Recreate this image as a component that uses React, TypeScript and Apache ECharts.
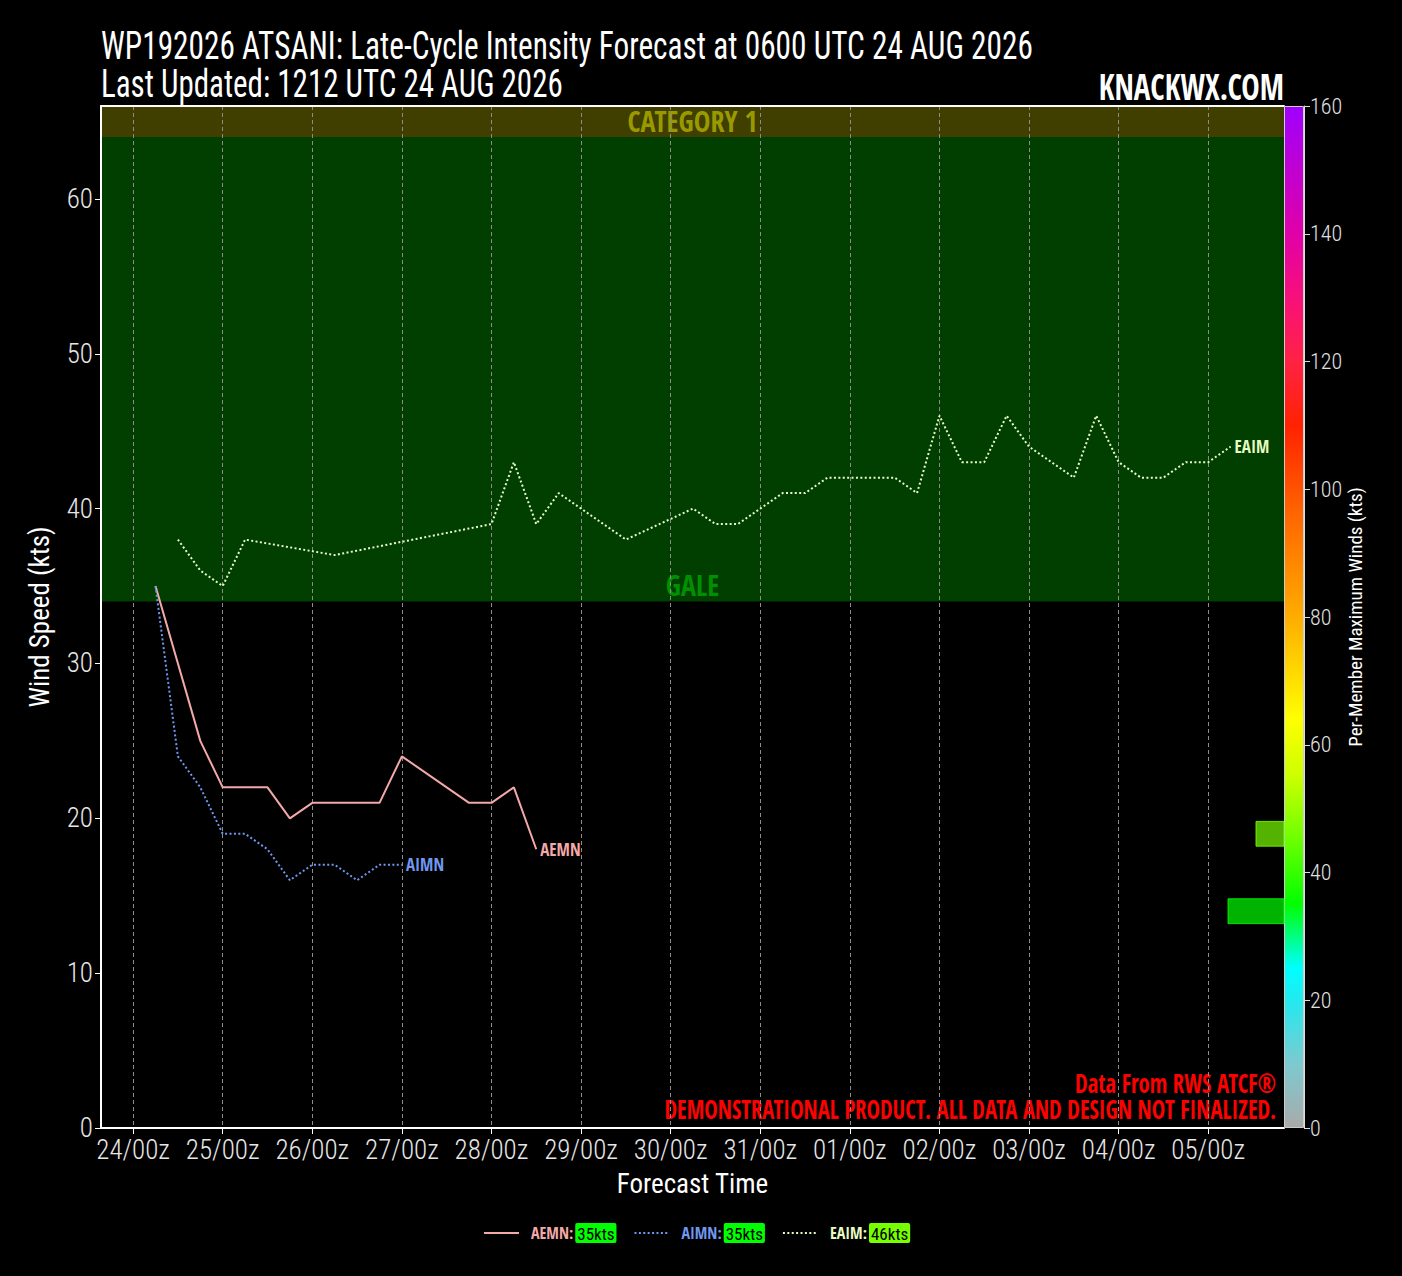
import React, { useEffect, useRef } from "react";
import * as echarts from "echarts";

const FONT = "'Roboto Condensed', 'Open Sans', sans-serif";
const FONT_B = "'Open Sans Condensed', 'Roboto Condensed', sans-serif";

// ---- data (hours after 24/00z) ----
const aemnHours = [6, 18, 24, 36, 42, 48, 66, 72, 90, 96, 102, 108];
const aemnValues = [35, 25, 22, 22, 20, 21, 21, 24, 21, 21, 22, 18];

const aimnHours = [6, 12, 18, 24, 30, 36, 42, 48, 54, 60, 66, 72];
const aimnValues = [35, 24, 22, 19, 19, 18, 16, 17, 17, 16, 17, 17];

const eaimHours = [12, 18, 24, 30, 54, 96, 102, 108, 114, 132, 150, 156, 162, 174, 180, 186, 204, 210, 216, 222, 228, 234, 240, 252, 258, 264, 270, 276, 282, 288, 294];
const eaimValues = [38, 36, 35, 38, 37, 39, 43, 39, 41, 38, 40, 39, 39, 41, 41, 42, 42, 41, 46, 43, 43, 46, 44, 42, 46, 43, 42, 42, 43, 43, 44];

const seriesNames = ["AEMN", "AIMN", "EAIM"];
const seriesColors = ["#f4a9a9", "#7098f0", "#e6fcc0"];
const seriesMaxWinds = [35, 35, 46];

const xTickHours = [0, 24, 48, 72, 96, 120, 144, 168, 192, 216, 240, 264, 288];
const xTickLabels = ["24/00z", "25/00z", "26/00z", "27/00z", "28/00z", "29/00z", "30/00z", "31/00z", "01/00z", "02/00z", "03/00z", "04/00z", "05/00z"];
const yTicks = [0, 10, 20, 30, 40, 50, 60];

// per-member histogram bins on the right edge
const binLow = [13.2, 18.2];
const binHigh = [14.8, 19.8];
const binCount = [2, 1];
const binColorWind = [35, 46];

// intensity bands
const bandNames = ["GALE", "CATEGORY 1"];
const bandLow = [34, 64];
const bandHigh = [64, 66];

// colour bar
const cmapValues = [0, 10, 20, 25, 35, 45, 55, 64, 80, 96, 110, 120, 130, 140, 150, 160];
const cmapColors = ["#aaaaaa", "#7ccad0", "#22eaf0", "#00ffff", "#00ff00", "#6cff00", "#ccff00", "#ffff00", "#ffac00", "#ff6600", "#ff2200", "#ff2244", "#f8107a", "#e000a8", "#c000d0", "#a000ff"];

function hexToRgb(h: string) {
  const n = parseInt(h.slice(1), 16);
  return [(n >> 16) & 255, (n >> 8) & 255, n & 255];
}
function cmap(v: number): number[] {
  for (let i = 0; i < cmapValues.length - 1; i++) {
    if (v <= cmapValues[i + 1]) {
      const t = (v - cmapValues[i]) / (cmapValues[i + 1] - cmapValues[i]);
      const a = hexToRgb(cmapColors[i]);
      const b = hexToRgb(cmapColors[i + 1]);
      return a.map((x, k) => Math.round(x + (b[k] - x) * t));
    }
  }
  return hexToRgb(cmapColors[cmapColors.length - 1]);
}
const rgbStr = (c: number[], a = 1) => `rgba(${c[0]},${c[1]},${c[2]},${a})`;

export default function App() {
  const ref = useRef<HTMLDivElement>(null);
  useEffect(() => {
    document.body.style.margin = "0";
    document.body.style.background = "#000";
    const chart = echarts.init(ref.current!, null, { renderer: "svg" });

    const pairs = (h: number[], v: number[]) => h.map((x, i) => [x, v[i]]);
    const lineData = [pairs(aemnHours, aemnValues), pairs(aimnHours, aimnValues), pairs(eaimHours, eaimValues)];
    const lineTypes: any[] = ["solid", [2, 2.4], [2, 2.4]];

    const rich: any = {};
    seriesNames.forEach((n, i) => {
      rich["n" + i] = { color: seriesColors[i], fontFamily: FONT_B, fontWeight: "bold", fontSize: 16, padding: [0, 2, 0, 7] };
      rich["b" + i] = {
        color: "#000", fontFamily: FONT, fontSize: 17, backgroundColor: rgbStr(cmap(seriesMaxWinds[i])),
        borderRadius: 2, padding: [2, 2, 1, 2],
      };
    });

    const option: any = {
      animation: false,
      backgroundColor: "#000",
      textStyle: { fontFamily: FONT },
      grid: [
        { left: 101, top: 106, width: 1183, bottom: 148, containLabel: false },
        { left: 1284, top: 106, width: 20, bottom: 148, containLabel: false },
      ],
      xAxis: [
        {
          type: "value", gridIndex: 0, min: -8.6, max: 308.3,
          name: "Forecast Time", nameLocation: "middle", nameGap: 42,
          nameTextStyle: { color: "#fff", fontSize: 27, fontFamily: FONT },
          axisLine: { show: true, onZero: false, lineStyle: { color: "#fff", width: 2 } },
          axisTick: { show: true, customValues: xTickHours, length: 6, lineStyle: { color: "#fff" } },
          axisLabel: {
            customValues: xTickHours, color: "#e6e6e6", fontSize: 27, fontWeight: 300, fontFamily: FONT, margin: 8,
            formatter: (v: number) => xTickLabels[xTickHours.indexOf(v)],
          },
          splitLine: { show: true, lineStyle: { color: "#8c8c8c", type: [4, 3], width: 1 } },
        },
        {
          type: "value", gridIndex: 0, min: 0, max: 1183 / 28, inverse: true, position: "top",
          axisLine: { show: true, onZero: false, lineStyle: { color: "#fff", width: 2 } },
          axisTick: { show: false }, axisLabel: { show: false }, splitLine: { show: false },
        },
        {
          type: "category", gridIndex: 1, data: ["cb"], show: false,
        },
      ],
      yAxis: [
        {
          type: "value", gridIndex: 0, min: 0, max: 66,
          name: "Wind Speed (kts)", nameLocation: "middle", nameGap: 48, nameRotate: 90,
          nameTextStyle: { color: "#fff", fontSize: 27, fontFamily: FONT },
          axisLine: { show: true, onZero: false, lineStyle: { color: "#fff", width: 2 } },
          axisTick: { show: true, customValues: yTicks, length: 6, lineStyle: { color: "#fff" } },
          axisLabel: { customValues: yTicks, color: "#e6e6e6", fontSize: 27, fontWeight: 300, fontFamily: FONT, margin: 8 },
          splitLine: { show: false },
        },
        {
          type: "value", gridIndex: 1, min: 0, max: 160, interval: 20, position: "right",
          name: "Per-Member Maximum Winds (kts)", nameLocation: "middle", nameGap: 42, nameRotate: 90,
          nameTextStyle: { color: "#fff", fontSize: 19, fontFamily: FONT },
          axisLine: { show: true, onZero: false, lineStyle: { color: "#ddd", width: 1 } },
          axisTick: { show: true, length: 6, lineStyle: { color: "#ddd" } },
          axisLabel: { color: "#e0e0e0", fontSize: 22, fontWeight: 300, fontFamily: FONT, margin: 6 },
          splitLine: { show: false },
        },
      ],
      legend: {
        left: 478, top: 1218, itemWidth: 35, itemHeight: 18, itemGap: 17,
        itemStyle: { opacity: 0 },
        data: seriesNames.map((n) => ({ name: n })),
        formatter: (name: string) => {
          const i = seriesNames.indexOf(name);
          return `{n${i}|${name}:}{b${i}|${seriesMaxWinds[i]}kts}`;
        },
        textStyle: { rich },
      },
      graphic: [
        {
          type: "text", x: 101, y: 46, scaleY: 1.26,
          style: { text: "WP192026 ATSANI: Late-Cycle Intensity Forecast at 0600 UTC 24 AUG 2026", fill: "#fff", font: `31.3px ${FONT}`, verticalAlign: "middle" },
        },
        {
          type: "text", x: 101, y: 84, scaleY: 1.26,
          style: { text: "Last Updated: 1212 UTC 24 AUG 2026", fill: "#fff", font: `31px ${FONT}`, verticalAlign: "middle" },
        },
        {
          type: "text", x: 1284, y: 86, scaleY: 1.18,
          style: { text: "KNACKWX.COM", fill: "#fff", font: `bold 31px ${FONT_B}`, align: "right", verticalAlign: "middle" },
        },
        {
          type: "text", x: 1276, y: 1083, scaleY: 1.18,
          style: { text: "Data From RWS ATCF®", fill: "#ff0000", font: `bold 22.6px ${FONT_B}`, align: "right", verticalAlign: "middle" },
        },
        {
          type: "text", x: 1276, y: 1109, scaleY: 1.18,
          style: { text: "DEMONSTRATIONAL PRODUCT. ALL DATA AND DESIGN NOT FINALIZED.", fill: "#ff0000", font: `bold 22.6px ${FONT_B}`, align: "right", verticalAlign: "middle" },
        },
      ],
      series: [
        {
          name: "bands", type: "line", xAxisIndex: 0, yAxisIndex: 0, data: [], z: -1, silent: true,
          markArea: {
            z: -1, silent: true,
            data: [
              [
                { yAxis: bandLow[0], itemStyle: { color: "#003f00" }, label: { show: true, position: "insideBottom", distance: 3, color: "#009000", fontSize: 28, fontWeight: "bold", fontFamily: FONT_B }, name: bandNames[0] },
                { yAxis: bandHigh[0] },
              ],
              [
                { yAxis: bandLow[1], itemStyle: { color: "#403f00" }, label: { show: true, position: "inside", color: "#9a9a00", fontSize: 28, fontWeight: "bold", fontFamily: FONT_B }, name: bandNames[1] },
                { yAxis: bandHigh[1] },
              ],
            ],
          },
        },
        ...seriesNames.map((n, i) => ({
          name: n, type: "line", xAxisIndex: 0, yAxisIndex: 0, data: lineData[i], showSymbol: false, symbol: "none",
          color: seriesColors[i], z: 3,
          lineStyle: { color: seriesColors[i], width: 2, type: lineTypes[i] },
          endLabel: { show: true, formatter: n, color: seriesColors[i], fontSize: 17, fontWeight: "bold", fontFamily: FONT_B, distance: 4 },
        })),
        {
          name: "hist", type: "custom", xAxisIndex: 1, yAxisIndex: 0, z: 4,
          data: binCount.map((c, i) => [c, binLow[i], binHigh[i], binColorWind[i]]),
          encode: { x: 0, y: [1, 2] },
          renderItem: (params: any, api: any) => {
            const c = api.value(0), lo = api.value(1), hi = api.value(2), w = api.value(3);
            const p0 = api.coord([0, hi]);
            const p1 = api.coord([c, lo]);
            const col = cmap(w);
            return {
              type: "rect",
              shape: { x: Math.min(p0[0], p1[0]), y: p0[1], width: Math.abs(p1[0] - p0[0]), height: p1[1] - p0[1] },
              style: { fill: rgbStr(col, 0.7), stroke: rgbStr(col, 0.85), lineWidth: 1 },
            };
          },
        },
        {
          name: "colorbar", type: "bar", xAxisIndex: 2, yAxisIndex: 1, data: [160], barWidth: "100%", silent: true,
          itemStyle: {
            color: new echarts.graphic.LinearGradient(0, 1, 0, 0, cmapValues.map((v, i) => ({ offset: v / 160, color: cmapColors[i] }))),
            borderColor: "#cccccc", borderWidth: 1,
          },
        },
      ],
    };
    chart.setOption(option);
    return () => chart.dispose();
  }, []);
  return <div ref={ref} style={{ width: 1402, height: 1276, background: "#000" }} />;
}
